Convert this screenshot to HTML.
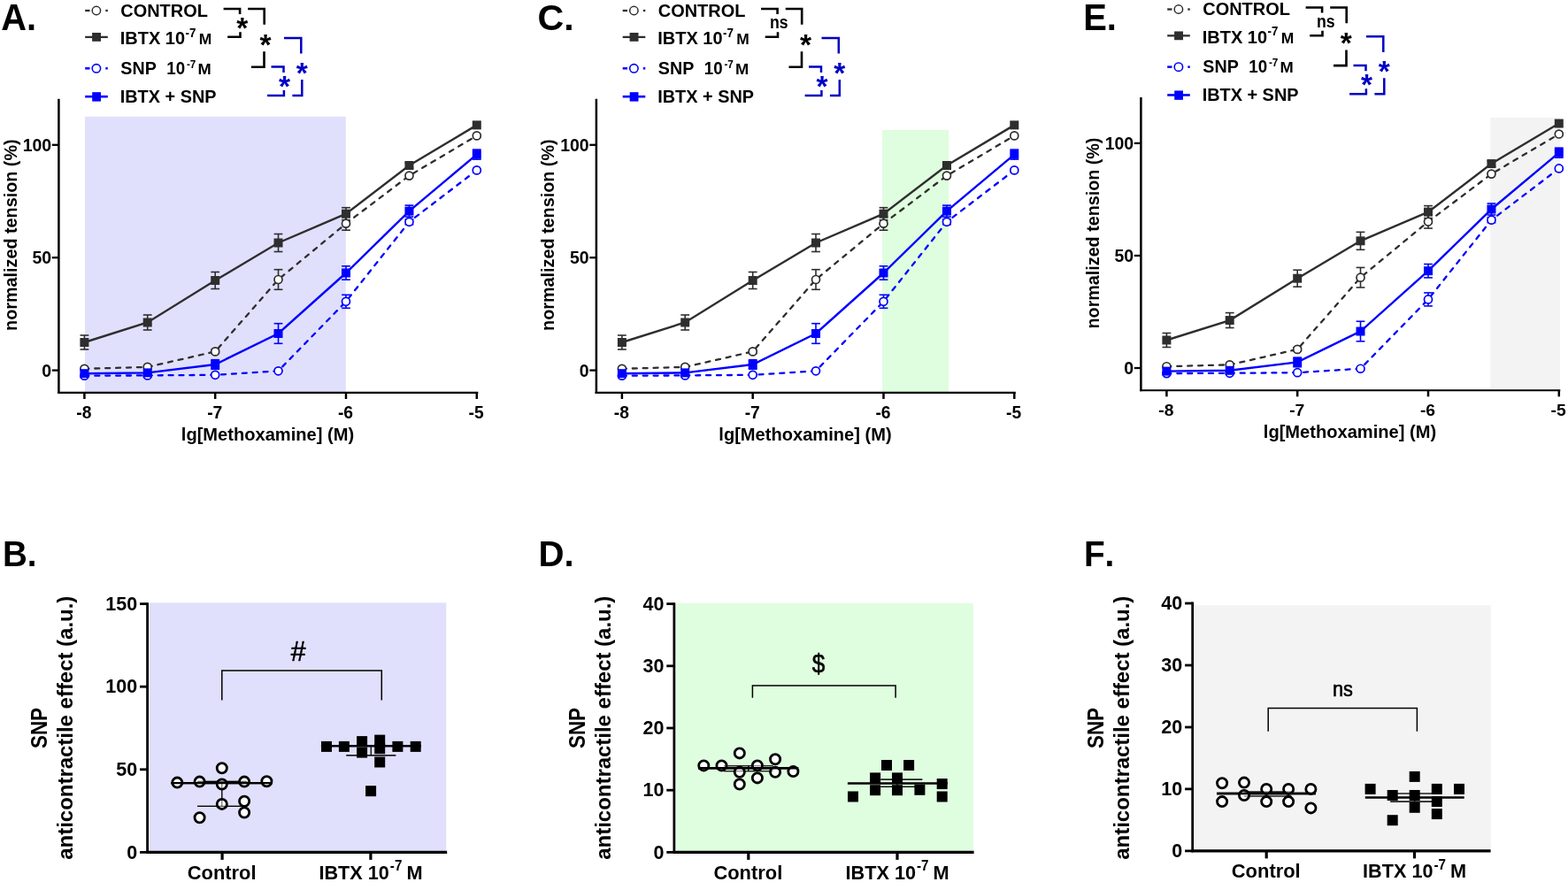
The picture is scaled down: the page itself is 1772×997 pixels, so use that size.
<!DOCTYPE html>
<html lang="en"><head><meta charset="utf-8"><title>Figure</title>
<style>html,body{margin:0;padding:0;background:#fff}svg{display:block}text{font-family:'Liberation Sans', sans-serif;font-kerning:none}</style></head><body>
<svg width="1772" height="997" viewBox="0 0 1772 997">
<rect width="1772" height="997" fill="#fff"/>
<g transform="translate(0,0)">
<rect x="96.00" y="131.80" width="294.80" height="311.20" fill="#E0E0FC"/>
<line x1="243.20" y1="395.40" x2="243.20" y2="399.40" stroke="#2E2E2E" stroke-width="1.6" />
<line x1="238.30" y1="395.40" x2="248.10" y2="395.40" stroke="#2E2E2E" stroke-width="1.6" />
<line x1="238.30" y1="399.40" x2="248.10" y2="399.40" stroke="#2E2E2E" stroke-width="1.6" />
<line x1="314.51" y1="304.70" x2="314.51" y2="327.30" stroke="#2E2E2E" stroke-width="1.6" />
<line x1="309.61" y1="304.70" x2="319.41" y2="304.70" stroke="#2E2E2E" stroke-width="1.6" />
<line x1="309.61" y1="327.30" x2="319.41" y2="327.30" stroke="#2E2E2E" stroke-width="1.6" />
<line x1="391.00" y1="245.20" x2="391.00" y2="260.20" stroke="#2E2E2E" stroke-width="1.6" />
<line x1="386.10" y1="245.20" x2="395.90" y2="245.20" stroke="#2E2E2E" stroke-width="1.6" />
<line x1="386.10" y1="260.20" x2="395.90" y2="260.20" stroke="#2E2E2E" stroke-width="1.6" />
<line x1="95.40" y1="379.00" x2="95.40" y2="395.00" stroke="#2E2E2E" stroke-width="1.6" />
<line x1="90.50" y1="379.00" x2="100.30" y2="379.00" stroke="#2E2E2E" stroke-width="1.6" />
<line x1="90.50" y1="395.00" x2="100.30" y2="395.00" stroke="#2E2E2E" stroke-width="1.6" />
<line x1="166.71" y1="356.00" x2="166.71" y2="373.00" stroke="#2E2E2E" stroke-width="1.6" />
<line x1="161.81" y1="356.00" x2="171.61" y2="356.00" stroke="#2E2E2E" stroke-width="1.6" />
<line x1="161.81" y1="373.00" x2="171.61" y2="373.00" stroke="#2E2E2E" stroke-width="1.6" />
<line x1="243.20" y1="307.50" x2="243.20" y2="326.50" stroke="#2E2E2E" stroke-width="1.6" />
<line x1="238.30" y1="307.50" x2="248.10" y2="307.50" stroke="#2E2E2E" stroke-width="1.6" />
<line x1="238.30" y1="326.50" x2="248.10" y2="326.50" stroke="#2E2E2E" stroke-width="1.6" />
<line x1="314.51" y1="264.50" x2="314.51" y2="284.50" stroke="#2E2E2E" stroke-width="1.6" />
<line x1="309.61" y1="264.50" x2="319.41" y2="264.50" stroke="#2E2E2E" stroke-width="1.6" />
<line x1="309.61" y1="284.50" x2="319.41" y2="284.50" stroke="#2E2E2E" stroke-width="1.6" />
<line x1="391.00" y1="234.70" x2="391.00" y2="248.70" stroke="#2E2E2E" stroke-width="1.6" />
<line x1="386.10" y1="234.70" x2="395.90" y2="234.70" stroke="#2E2E2E" stroke-width="1.6" />
<line x1="386.10" y1="248.70" x2="395.90" y2="248.70" stroke="#2E2E2E" stroke-width="1.6" />
<line x1="462.46" y1="184.00" x2="462.46" y2="190.00" stroke="#2E2E2E" stroke-width="1.6" />
<line x1="457.56" y1="184.00" x2="467.36" y2="184.00" stroke="#2E2E2E" stroke-width="1.6" />
<line x1="457.56" y1="190.00" x2="467.36" y2="190.00" stroke="#2E2E2E" stroke-width="1.6" />
<line x1="391.00" y1="333.30" x2="391.00" y2="348.30" stroke="#0000FF" stroke-width="1.6" />
<line x1="386.10" y1="333.30" x2="395.90" y2="333.30" stroke="#0000FF" stroke-width="1.6" />
<line x1="386.10" y1="348.30" x2="395.90" y2="348.30" stroke="#0000FF" stroke-width="1.6" />
<line x1="462.46" y1="247.80" x2="462.46" y2="253.80" stroke="#0000FF" stroke-width="1.6" />
<line x1="457.56" y1="247.80" x2="467.36" y2="247.80" stroke="#0000FF" stroke-width="1.6" />
<line x1="457.56" y1="253.80" x2="467.36" y2="253.80" stroke="#0000FF" stroke-width="1.6" />
<line x1="243.20" y1="406.70" x2="243.20" y2="417.30" stroke="#0000FF" stroke-width="1.6" />
<line x1="238.30" y1="406.70" x2="248.10" y2="406.70" stroke="#0000FF" stroke-width="1.6" />
<line x1="238.30" y1="417.30" x2="248.10" y2="417.30" stroke="#0000FF" stroke-width="1.6" />
<line x1="314.51" y1="365.70" x2="314.51" y2="388.30" stroke="#0000FF" stroke-width="1.6" />
<line x1="309.61" y1="365.70" x2="319.41" y2="365.70" stroke="#0000FF" stroke-width="1.6" />
<line x1="309.61" y1="388.30" x2="319.41" y2="388.30" stroke="#0000FF" stroke-width="1.6" />
<line x1="391.00" y1="300.80" x2="391.00" y2="316.20" stroke="#0000FF" stroke-width="1.6" />
<line x1="386.10" y1="300.80" x2="395.90" y2="300.80" stroke="#0000FF" stroke-width="1.6" />
<line x1="386.10" y1="316.20" x2="395.90" y2="316.20" stroke="#0000FF" stroke-width="1.6" />
<line x1="462.46" y1="232.10" x2="462.46" y2="245.10" stroke="#0000FF" stroke-width="1.6" />
<line x1="457.56" y1="232.10" x2="467.36" y2="232.10" stroke="#0000FF" stroke-width="1.6" />
<line x1="457.56" y1="245.10" x2="467.36" y2="245.10" stroke="#0000FF" stroke-width="1.6" />
<line x1="538.80" y1="169.10" x2="538.80" y2="180.10" stroke="#0000FF" stroke-width="1.6" />
<line x1="533.90" y1="169.10" x2="543.70" y2="169.10" stroke="#0000FF" stroke-width="1.6" />
<line x1="533.90" y1="180.10" x2="543.70" y2="180.10" stroke="#0000FF" stroke-width="1.6" />
<polyline points="95.40,416.80 166.71,414.90 243.20,397.40 314.51,316.00 391.00,252.70 462.46,198.60 538.80,153.40" fill="none" stroke="#2E2E2E" stroke-width="2.3" stroke-dasharray="5 6.9" stroke-linecap="round"/>
<polyline points="95.40,387.00 166.71,364.50 243.20,317.00 314.51,274.50 391.00,241.70 462.46,187.00 538.80,141.40" fill="none" stroke="#2E2E2E" stroke-width="2.4" />
<polyline points="95.40,424.70 166.71,424.40 243.20,423.80 314.51,419.30 391.00,340.80 462.46,250.80 538.80,192.40" fill="none" stroke="#0000FF" stroke-width="2.3" stroke-dasharray="5 6.9" stroke-linecap="round"/>
<polyline points="95.40,422.20 166.71,421.40 243.20,412.00 314.51,377.00 391.00,308.50 462.46,238.60 538.80,174.60" fill="none" stroke="#0000FF" stroke-width="2.4" />
<circle cx="95.40" cy="416.80" r="4.5" fill="#fff" stroke="#2E2E2E" stroke-width="1.7"/>
<circle cx="166.71" cy="414.90" r="4.5" fill="#fff" stroke="#2E2E2E" stroke-width="1.7"/>
<circle cx="243.20" cy="397.40" r="4.5" fill="#fff" stroke="#2E2E2E" stroke-width="1.7"/>
<circle cx="314.51" cy="316.00" r="4.5" fill="#fff" stroke="#2E2E2E" stroke-width="1.7"/>
<circle cx="391.00" cy="252.70" r="4.5" fill="#fff" stroke="#2E2E2E" stroke-width="1.7"/>
<circle cx="462.46" cy="198.60" r="4.5" fill="#fff" stroke="#2E2E2E" stroke-width="1.7"/>
<circle cx="538.80" cy="153.40" r="4.5" fill="#fff" stroke="#2E2E2E" stroke-width="1.7"/>
<rect x="90.40" y="382.00" width="10" height="10" fill="#2E2E2E"/>
<rect x="161.71" y="359.50" width="10" height="10" fill="#2E2E2E"/>
<rect x="238.20" y="312.00" width="10" height="10" fill="#2E2E2E"/>
<rect x="309.51" y="269.50" width="10" height="10" fill="#2E2E2E"/>
<rect x="386.00" y="236.70" width="10" height="10" fill="#2E2E2E"/>
<rect x="457.46" y="182.00" width="10" height="10" fill="#2E2E2E"/>
<rect x="533.80" y="136.40" width="10" height="10" fill="#2E2E2E"/>
<circle cx="95.40" cy="424.70" r="4.5" fill="#fff" stroke="#0000FF" stroke-width="1.7"/>
<circle cx="166.71" cy="424.40" r="4.5" fill="#fff" stroke="#0000FF" stroke-width="1.7"/>
<circle cx="243.20" cy="423.80" r="4.5" fill="#fff" stroke="#0000FF" stroke-width="1.7"/>
<circle cx="314.51" cy="419.30" r="4.5" fill="#fff" stroke="#0000FF" stroke-width="1.7"/>
<circle cx="391.00" cy="340.80" r="4.5" fill="#fff" stroke="#0000FF" stroke-width="1.7"/>
<circle cx="462.46" cy="250.80" r="4.5" fill="#fff" stroke="#0000FF" stroke-width="1.7"/>
<circle cx="538.80" cy="192.40" r="4.5" fill="#fff" stroke="#0000FF" stroke-width="1.7"/>
<rect x="90.40" y="417.20" width="10" height="10" fill="#0000FF"/>
<rect x="161.71" y="416.40" width="10" height="10" fill="#0000FF"/>
<rect x="238.20" y="407.00" width="10" height="10" fill="#0000FF"/>
<rect x="309.51" y="372.00" width="10" height="10" fill="#0000FF"/>
<rect x="386.00" y="303.50" width="10" height="10" fill="#0000FF"/>
<rect x="457.46" y="233.60" width="10" height="10" fill="#0000FF"/>
<rect x="533.80" y="169.60" width="10" height="10" fill="#0000FF"/>
<line x1="66.40" y1="111.80" x2="66.40" y2="444.90" stroke="#000" stroke-width="2.5" />
<line x1="65.15" y1="443.90" x2="540.30" y2="443.90" stroke="#000" stroke-width="2.2" />
<line x1="58.80" y1="418.60" x2="66.40" y2="418.60" stroke="#000" stroke-width="2.3" />
<text transform="translate(47.35,425.50) scale(1.0000,1)" font-size="19.50" font-weight="bold" fill="#000">0</text>
<line x1="58.80" y1="291.20" x2="66.40" y2="291.20" stroke="#000" stroke-width="2.3" />
<text transform="translate(36.51,298.10) scale(1.0000,1)" font-size="19.50" font-weight="bold" fill="#000">50</text>
<line x1="58.80" y1="163.80" x2="66.40" y2="163.80" stroke="#000" stroke-width="2.3" />
<text transform="translate(25.66,170.70) scale(1.0000,1)" font-size="19.50" font-weight="bold" fill="#000">100</text>
<line x1="95.40" y1="443.90" x2="95.40" y2="451.00" stroke="#000" stroke-width="2.5" />
<text transform="translate(86.24,472.80) scale(1.0000,1)" font-size="19.30" font-weight="bold" fill="#000">-8</text>
<line x1="243.20" y1="443.90" x2="243.20" y2="451.00" stroke="#000" stroke-width="2.5" />
<text transform="translate(234.17,472.80) scale(1.0000,1)" font-size="19.30" font-weight="bold" fill="#000">-7</text>
<line x1="391.00" y1="443.90" x2="391.00" y2="451.00" stroke="#000" stroke-width="2.5" />
<text transform="translate(381.89,472.80) scale(1.0000,1)" font-size="19.30" font-weight="bold" fill="#000">-6</text>
<line x1="538.80" y1="443.90" x2="538.80" y2="451.00" stroke="#000" stroke-width="2.5" />
<text transform="translate(529.61,472.80) scale(1.0000,1)" font-size="19.30" font-weight="bold" fill="#000">-5</text>
<text transform="translate(204.80,497.60) scale(1.0255,1)" font-size="19.60" font-weight="bold" fill="#000">lg[Methoxamine] (M)</text>
<text transform="translate(18.70,373.90) rotate(-90) scale(1.0045,1)" font-size="19.70" font-weight="bold" fill="#000">normalized tension (%)</text>
<line x1="96.20" y1="12.00" x2="101.50" y2="12.00" stroke="#2E2E2E" stroke-width="2.3" />
<line x1="119.30" y1="12.00" x2="121.80" y2="12.00" stroke="#2E2E2E" stroke-width="2.3" />
<circle cx="108.9" cy="12" r="4.7" fill="#fff" stroke="#2E2E2E" stroke-width="1.5"/>
<text transform="translate(136.28,18.50) scale(0.9985,1)" font-size="20.00" font-weight="bold" fill="#000">CONTROL</text>
<line x1="96.20" y1="41.90" x2="121.80" y2="41.90" stroke="#2E2E2E" stroke-width="2.3" />
<rect x="104.1" y="37.0" width="9.9" height="9.8" fill="#2E2E2E"/>
<text transform="translate(135.76,50.20) scale(1.0000,1)" font-size="20.00" font-weight="bold" fill="#000">IBTX 10</text>
<text transform="translate(209.58,41.60) scale(0.8931,1)" font-size="15.00" font-weight="bold" fill="#000">-7</text>
<text transform="translate(224.73,50.20) scale(1.0905,1)" font-size="16.00" font-weight="bold" fill="#000">M</text>
<line x1="96.20" y1="77.30" x2="101.50" y2="77.30" stroke="#0000FF" stroke-width="2.5" />
<line x1="119.30" y1="77.30" x2="121.80" y2="77.30" stroke="#0000FF" stroke-width="2.5" />
<circle cx="108.9" cy="77.3" r="4.7" fill="#fff" stroke="#0000FF" stroke-width="1.6"/>
<text transform="translate(136.33,83.90) scale(0.9859,1)" font-size="20.00" font-weight="bold" fill="#000">SNP</text>
<text transform="translate(188.22,83.90) scale(0.9372,1)" font-size="20.00" font-weight="bold" fill="#000">10</text>
<text transform="translate(210.94,76.50) scale(0.9427,1)" font-size="12.50" font-weight="bold" fill="#000">-7</text>
<text transform="translate(223.38,83.90) scale(1.1441,1)" font-size="16.00" font-weight="bold" fill="#000">M</text>
<line x1="96.20" y1="109.20" x2="121.80" y2="109.20" stroke="#0000FF" stroke-width="2.6" />
<rect x="104.2" y="104.2" width="9.8" height="10.4" fill="#0000FF"/>
<text transform="translate(135.67,115.90) scale(0.9949,1)" font-size="20.00" font-weight="bold" fill="#000">IBTX + SNP</text>
<polyline points="252.60,9.95 271.10,9.95 271.10,15.90" fill="none" stroke="#000" stroke-width="2.6" />
<polyline points="257.20,41.80 271.50,41.80 271.50,36.20" fill="none" stroke="#000" stroke-width="2.6" />
<text transform="translate(267.15,43.02) scale(1.0000,1)" font-size="33.50" font-weight="bold" fill="#000">*</text>
<polyline points="280.20,9.95 298.70,9.95 298.70,27.80" fill="none" stroke="#000" stroke-width="2.6" />
<polyline points="284.00,75.80 298.50,75.80 298.50,58.20" fill="none" stroke="#000" stroke-width="2.6" />
<text transform="translate(293.55,61.92) scale(1.0000,1)" font-size="33.50" font-weight="bold" fill="#000">*</text>
<polyline points="321.00,42.90 340.30,42.90 340.30,60.50" fill="none" stroke="#0000C4" stroke-width="2.5" />
<polyline points="330.40,107.90 341.30,107.90 341.30,90.00" fill="none" stroke="#0000C4" stroke-width="2.5" />
<text transform="translate(334.85,93.92) scale(1.0000,1)" font-size="33.50" font-weight="bold" fill="#0000C4">*</text>
<polyline points="306.50,75.60 320.50,75.60 320.50,81.90" fill="none" stroke="#0000C4" stroke-width="2.5" />
<polyline points="302.10,107.90 320.90,107.90 320.90,101.90" fill="none" stroke="#0000C4" stroke-width="2.5" />
<text transform="translate(315.05,109.22) scale(1.0000,1)" font-size="33.50" font-weight="bold" fill="#0000C4">*</text>
</g>
<text transform="translate(1.21,34.00) scale(0.9582,1)" font-size="41.57" font-weight="bold" fill="#000">A.</text>
<g transform="translate(607.5,0)">
<rect x="389.60" y="146.90" width="75.00" height="296.10" fill="#DFFDDF"/>
<line x1="243.20" y1="395.40" x2="243.20" y2="399.40" stroke="#2E2E2E" stroke-width="1.6" />
<line x1="238.30" y1="395.40" x2="248.10" y2="395.40" stroke="#2E2E2E" stroke-width="1.6" />
<line x1="238.30" y1="399.40" x2="248.10" y2="399.40" stroke="#2E2E2E" stroke-width="1.6" />
<line x1="314.51" y1="304.70" x2="314.51" y2="327.30" stroke="#2E2E2E" stroke-width="1.6" />
<line x1="309.61" y1="304.70" x2="319.41" y2="304.70" stroke="#2E2E2E" stroke-width="1.6" />
<line x1="309.61" y1="327.30" x2="319.41" y2="327.30" stroke="#2E2E2E" stroke-width="1.6" />
<line x1="391.00" y1="245.20" x2="391.00" y2="260.20" stroke="#2E2E2E" stroke-width="1.6" />
<line x1="386.10" y1="245.20" x2="395.90" y2="245.20" stroke="#2E2E2E" stroke-width="1.6" />
<line x1="386.10" y1="260.20" x2="395.90" y2="260.20" stroke="#2E2E2E" stroke-width="1.6" />
<line x1="95.40" y1="379.00" x2="95.40" y2="395.00" stroke="#2E2E2E" stroke-width="1.6" />
<line x1="90.50" y1="379.00" x2="100.30" y2="379.00" stroke="#2E2E2E" stroke-width="1.6" />
<line x1="90.50" y1="395.00" x2="100.30" y2="395.00" stroke="#2E2E2E" stroke-width="1.6" />
<line x1="166.71" y1="356.00" x2="166.71" y2="373.00" stroke="#2E2E2E" stroke-width="1.6" />
<line x1="161.81" y1="356.00" x2="171.61" y2="356.00" stroke="#2E2E2E" stroke-width="1.6" />
<line x1="161.81" y1="373.00" x2="171.61" y2="373.00" stroke="#2E2E2E" stroke-width="1.6" />
<line x1="243.20" y1="307.50" x2="243.20" y2="326.50" stroke="#2E2E2E" stroke-width="1.6" />
<line x1="238.30" y1="307.50" x2="248.10" y2="307.50" stroke="#2E2E2E" stroke-width="1.6" />
<line x1="238.30" y1="326.50" x2="248.10" y2="326.50" stroke="#2E2E2E" stroke-width="1.6" />
<line x1="314.51" y1="264.50" x2="314.51" y2="284.50" stroke="#2E2E2E" stroke-width="1.6" />
<line x1="309.61" y1="264.50" x2="319.41" y2="264.50" stroke="#2E2E2E" stroke-width="1.6" />
<line x1="309.61" y1="284.50" x2="319.41" y2="284.50" stroke="#2E2E2E" stroke-width="1.6" />
<line x1="391.00" y1="234.70" x2="391.00" y2="248.70" stroke="#2E2E2E" stroke-width="1.6" />
<line x1="386.10" y1="234.70" x2="395.90" y2="234.70" stroke="#2E2E2E" stroke-width="1.6" />
<line x1="386.10" y1="248.70" x2="395.90" y2="248.70" stroke="#2E2E2E" stroke-width="1.6" />
<line x1="462.46" y1="184.00" x2="462.46" y2="190.00" stroke="#2E2E2E" stroke-width="1.6" />
<line x1="457.56" y1="184.00" x2="467.36" y2="184.00" stroke="#2E2E2E" stroke-width="1.6" />
<line x1="457.56" y1="190.00" x2="467.36" y2="190.00" stroke="#2E2E2E" stroke-width="1.6" />
<line x1="391.00" y1="333.30" x2="391.00" y2="348.30" stroke="#0000FF" stroke-width="1.6" />
<line x1="386.10" y1="333.30" x2="395.90" y2="333.30" stroke="#0000FF" stroke-width="1.6" />
<line x1="386.10" y1="348.30" x2="395.90" y2="348.30" stroke="#0000FF" stroke-width="1.6" />
<line x1="462.46" y1="247.80" x2="462.46" y2="253.80" stroke="#0000FF" stroke-width="1.6" />
<line x1="457.56" y1="247.80" x2="467.36" y2="247.80" stroke="#0000FF" stroke-width="1.6" />
<line x1="457.56" y1="253.80" x2="467.36" y2="253.80" stroke="#0000FF" stroke-width="1.6" />
<line x1="243.20" y1="406.70" x2="243.20" y2="417.30" stroke="#0000FF" stroke-width="1.6" />
<line x1="238.30" y1="406.70" x2="248.10" y2="406.70" stroke="#0000FF" stroke-width="1.6" />
<line x1="238.30" y1="417.30" x2="248.10" y2="417.30" stroke="#0000FF" stroke-width="1.6" />
<line x1="314.51" y1="365.70" x2="314.51" y2="388.30" stroke="#0000FF" stroke-width="1.6" />
<line x1="309.61" y1="365.70" x2="319.41" y2="365.70" stroke="#0000FF" stroke-width="1.6" />
<line x1="309.61" y1="388.30" x2="319.41" y2="388.30" stroke="#0000FF" stroke-width="1.6" />
<line x1="391.00" y1="300.80" x2="391.00" y2="316.20" stroke="#0000FF" stroke-width="1.6" />
<line x1="386.10" y1="300.80" x2="395.90" y2="300.80" stroke="#0000FF" stroke-width="1.6" />
<line x1="386.10" y1="316.20" x2="395.90" y2="316.20" stroke="#0000FF" stroke-width="1.6" />
<line x1="462.46" y1="232.10" x2="462.46" y2="245.10" stroke="#0000FF" stroke-width="1.6" />
<line x1="457.56" y1="232.10" x2="467.36" y2="232.10" stroke="#0000FF" stroke-width="1.6" />
<line x1="457.56" y1="245.10" x2="467.36" y2="245.10" stroke="#0000FF" stroke-width="1.6" />
<line x1="538.80" y1="169.10" x2="538.80" y2="180.10" stroke="#0000FF" stroke-width="1.6" />
<line x1="533.90" y1="169.10" x2="543.70" y2="169.10" stroke="#0000FF" stroke-width="1.6" />
<line x1="533.90" y1="180.10" x2="543.70" y2="180.10" stroke="#0000FF" stroke-width="1.6" />
<polyline points="95.40,416.80 166.71,414.90 243.20,397.40 314.51,316.00 391.00,252.70 462.46,198.60 538.80,153.40" fill="none" stroke="#2E2E2E" stroke-width="2.3" stroke-dasharray="5 6.9" stroke-linecap="round"/>
<polyline points="95.40,387.00 166.71,364.50 243.20,317.00 314.51,274.50 391.00,241.70 462.46,187.00 538.80,141.40" fill="none" stroke="#2E2E2E" stroke-width="2.4" />
<polyline points="95.40,424.70 166.71,424.40 243.20,423.80 314.51,419.30 391.00,340.80 462.46,250.80 538.80,192.40" fill="none" stroke="#0000FF" stroke-width="2.3" stroke-dasharray="5 6.9" stroke-linecap="round"/>
<polyline points="95.40,422.20 166.71,421.40 243.20,412.00 314.51,377.00 391.00,308.50 462.46,238.60 538.80,174.60" fill="none" stroke="#0000FF" stroke-width="2.4" />
<circle cx="95.40" cy="416.80" r="4.5" fill="#fff" stroke="#2E2E2E" stroke-width="1.7"/>
<circle cx="166.71" cy="414.90" r="4.5" fill="#fff" stroke="#2E2E2E" stroke-width="1.7"/>
<circle cx="243.20" cy="397.40" r="4.5" fill="#fff" stroke="#2E2E2E" stroke-width="1.7"/>
<circle cx="314.51" cy="316.00" r="4.5" fill="#fff" stroke="#2E2E2E" stroke-width="1.7"/>
<circle cx="391.00" cy="252.70" r="4.5" fill="#fff" stroke="#2E2E2E" stroke-width="1.7"/>
<circle cx="462.46" cy="198.60" r="4.5" fill="#fff" stroke="#2E2E2E" stroke-width="1.7"/>
<circle cx="538.80" cy="153.40" r="4.5" fill="#fff" stroke="#2E2E2E" stroke-width="1.7"/>
<rect x="90.40" y="382.00" width="10" height="10" fill="#2E2E2E"/>
<rect x="161.71" y="359.50" width="10" height="10" fill="#2E2E2E"/>
<rect x="238.20" y="312.00" width="10" height="10" fill="#2E2E2E"/>
<rect x="309.51" y="269.50" width="10" height="10" fill="#2E2E2E"/>
<rect x="386.00" y="236.70" width="10" height="10" fill="#2E2E2E"/>
<rect x="457.46" y="182.00" width="10" height="10" fill="#2E2E2E"/>
<rect x="533.80" y="136.40" width="10" height="10" fill="#2E2E2E"/>
<circle cx="95.40" cy="424.70" r="4.5" fill="#fff" stroke="#0000FF" stroke-width="1.7"/>
<circle cx="166.71" cy="424.40" r="4.5" fill="#fff" stroke="#0000FF" stroke-width="1.7"/>
<circle cx="243.20" cy="423.80" r="4.5" fill="#fff" stroke="#0000FF" stroke-width="1.7"/>
<circle cx="314.51" cy="419.30" r="4.5" fill="#fff" stroke="#0000FF" stroke-width="1.7"/>
<circle cx="391.00" cy="340.80" r="4.5" fill="#fff" stroke="#0000FF" stroke-width="1.7"/>
<circle cx="462.46" cy="250.80" r="4.5" fill="#fff" stroke="#0000FF" stroke-width="1.7"/>
<circle cx="538.80" cy="192.40" r="4.5" fill="#fff" stroke="#0000FF" stroke-width="1.7"/>
<rect x="90.40" y="417.20" width="10" height="10" fill="#0000FF"/>
<rect x="161.71" y="416.40" width="10" height="10" fill="#0000FF"/>
<rect x="238.20" y="407.00" width="10" height="10" fill="#0000FF"/>
<rect x="309.51" y="372.00" width="10" height="10" fill="#0000FF"/>
<rect x="386.00" y="303.50" width="10" height="10" fill="#0000FF"/>
<rect x="457.46" y="233.60" width="10" height="10" fill="#0000FF"/>
<rect x="533.80" y="169.60" width="10" height="10" fill="#0000FF"/>
<line x1="66.40" y1="111.80" x2="66.40" y2="444.90" stroke="#000" stroke-width="2.5" />
<line x1="65.15" y1="443.90" x2="540.30" y2="443.90" stroke="#000" stroke-width="2.2" />
<line x1="58.80" y1="418.60" x2="66.40" y2="418.60" stroke="#000" stroke-width="2.3" />
<text transform="translate(47.35,425.50) scale(1.0000,1)" font-size="19.50" font-weight="bold" fill="#000">0</text>
<line x1="58.80" y1="291.20" x2="66.40" y2="291.20" stroke="#000" stroke-width="2.3" />
<text transform="translate(36.51,298.10) scale(1.0000,1)" font-size="19.50" font-weight="bold" fill="#000">50</text>
<line x1="58.80" y1="163.80" x2="66.40" y2="163.80" stroke="#000" stroke-width="2.3" />
<text transform="translate(25.66,170.70) scale(1.0000,1)" font-size="19.50" font-weight="bold" fill="#000">100</text>
<line x1="95.40" y1="443.90" x2="95.40" y2="451.00" stroke="#000" stroke-width="2.5" />
<text transform="translate(86.24,472.80) scale(1.0000,1)" font-size="19.30" font-weight="bold" fill="#000">-8</text>
<line x1="243.20" y1="443.90" x2="243.20" y2="451.00" stroke="#000" stroke-width="2.5" />
<text transform="translate(234.17,472.80) scale(1.0000,1)" font-size="19.30" font-weight="bold" fill="#000">-7</text>
<line x1="391.00" y1="443.90" x2="391.00" y2="451.00" stroke="#000" stroke-width="2.5" />
<text transform="translate(381.89,472.80) scale(1.0000,1)" font-size="19.30" font-weight="bold" fill="#000">-6</text>
<line x1="538.80" y1="443.90" x2="538.80" y2="451.00" stroke="#000" stroke-width="2.5" />
<text transform="translate(529.61,472.80) scale(1.0000,1)" font-size="19.30" font-weight="bold" fill="#000">-5</text>
<text transform="translate(204.80,497.60) scale(1.0255,1)" font-size="19.60" font-weight="bold" fill="#000">lg[Methoxamine] (M)</text>
<text transform="translate(18.70,373.90) rotate(-90) scale(1.0045,1)" font-size="19.70" font-weight="bold" fill="#000">normalized tension (%)</text>
<line x1="96.20" y1="12.00" x2="101.50" y2="12.00" stroke="#2E2E2E" stroke-width="2.3" />
<line x1="119.30" y1="12.00" x2="121.80" y2="12.00" stroke="#2E2E2E" stroke-width="2.3" />
<circle cx="108.9" cy="12" r="4.7" fill="#fff" stroke="#2E2E2E" stroke-width="1.5"/>
<text transform="translate(136.28,18.50) scale(0.9985,1)" font-size="20.00" font-weight="bold" fill="#000">CONTROL</text>
<line x1="96.20" y1="41.90" x2="121.80" y2="41.90" stroke="#2E2E2E" stroke-width="2.3" />
<rect x="104.1" y="37.0" width="9.9" height="9.8" fill="#2E2E2E"/>
<text transform="translate(135.76,50.20) scale(1.0000,1)" font-size="20.00" font-weight="bold" fill="#000">IBTX 10</text>
<text transform="translate(209.58,41.60) scale(0.8931,1)" font-size="15.00" font-weight="bold" fill="#000">-7</text>
<text transform="translate(224.73,50.20) scale(1.0905,1)" font-size="16.00" font-weight="bold" fill="#000">M</text>
<line x1="96.20" y1="77.30" x2="101.50" y2="77.30" stroke="#0000FF" stroke-width="2.5" />
<line x1="119.30" y1="77.30" x2="121.80" y2="77.30" stroke="#0000FF" stroke-width="2.5" />
<circle cx="108.9" cy="77.3" r="4.7" fill="#fff" stroke="#0000FF" stroke-width="1.6"/>
<text transform="translate(136.33,83.90) scale(0.9859,1)" font-size="20.00" font-weight="bold" fill="#000">SNP</text>
<text transform="translate(188.22,83.90) scale(0.9372,1)" font-size="20.00" font-weight="bold" fill="#000">10</text>
<text transform="translate(210.94,76.50) scale(0.9427,1)" font-size="12.50" font-weight="bold" fill="#000">-7</text>
<text transform="translate(223.38,83.90) scale(1.1441,1)" font-size="16.00" font-weight="bold" fill="#000">M</text>
<line x1="96.20" y1="109.20" x2="121.80" y2="109.20" stroke="#0000FF" stroke-width="2.6" />
<rect x="104.2" y="104.2" width="9.8" height="10.4" fill="#0000FF"/>
<text transform="translate(135.67,115.90) scale(0.9949,1)" font-size="20.00" font-weight="bold" fill="#000">IBTX + SNP</text>
<polyline points="252.60,9.95 271.10,9.95 271.10,15.90" fill="none" stroke="#000" stroke-width="2.6" />
<polyline points="257.20,41.80 271.50,41.80 271.50,36.20" fill="none" stroke="#000" stroke-width="2.6" />
<text transform="translate(262.53,32.00) scale(0.8867,1)" font-size="20.00" font-weight="bold" fill="#000">ns</text>
<polyline points="280.20,9.95 298.70,9.95 298.70,27.80" fill="none" stroke="#000" stroke-width="2.6" />
<polyline points="284.00,75.80 298.50,75.80 298.50,58.20" fill="none" stroke="#000" stroke-width="2.6" />
<text transform="translate(296.45,61.92) scale(1.0000,1)" font-size="33.50" font-weight="bold" fill="#000">*</text>
<polyline points="321.00,42.90 340.30,42.90 340.30,60.50" fill="none" stroke="#0000C4" stroke-width="2.5" />
<polyline points="330.40,107.90 341.30,107.90 341.30,90.00" fill="none" stroke="#0000C4" stroke-width="2.5" />
<text transform="translate(334.85,93.92) scale(1.0000,1)" font-size="33.50" font-weight="bold" fill="#0000C4">*</text>
<polyline points="306.50,75.60 320.50,75.60 320.50,81.90" fill="none" stroke="#0000C4" stroke-width="2.5" />
<polyline points="302.10,107.90 320.90,107.90 320.90,101.90" fill="none" stroke="#0000C4" stroke-width="2.5" />
<text transform="translate(315.05,109.22) scale(1.0000,1)" font-size="33.50" font-weight="bold" fill="#0000C4">*</text>
</g>
<text transform="translate(607.51,34.30) scale(1.0101,1)" font-size="40.82" font-weight="bold" fill="#000">C.</text>
<g transform="translate(1223,-1.45) scale(1,0.9973)">
<rect x="461.30" y="134.60" width="78.80" height="308.40" fill="#F3F3F3"/>
<line x1="243.20" y1="395.40" x2="243.20" y2="399.40" stroke="#2E2E2E" stroke-width="1.6" />
<line x1="238.30" y1="395.40" x2="248.10" y2="395.40" stroke="#2E2E2E" stroke-width="1.6" />
<line x1="238.30" y1="399.40" x2="248.10" y2="399.40" stroke="#2E2E2E" stroke-width="1.6" />
<line x1="314.51" y1="304.70" x2="314.51" y2="327.30" stroke="#2E2E2E" stroke-width="1.6" />
<line x1="309.61" y1="304.70" x2="319.41" y2="304.70" stroke="#2E2E2E" stroke-width="1.6" />
<line x1="309.61" y1="327.30" x2="319.41" y2="327.30" stroke="#2E2E2E" stroke-width="1.6" />
<line x1="391.00" y1="245.20" x2="391.00" y2="260.20" stroke="#2E2E2E" stroke-width="1.6" />
<line x1="386.10" y1="245.20" x2="395.90" y2="245.20" stroke="#2E2E2E" stroke-width="1.6" />
<line x1="386.10" y1="260.20" x2="395.90" y2="260.20" stroke="#2E2E2E" stroke-width="1.6" />
<line x1="95.40" y1="379.00" x2="95.40" y2="395.00" stroke="#2E2E2E" stroke-width="1.6" />
<line x1="90.50" y1="379.00" x2="100.30" y2="379.00" stroke="#2E2E2E" stroke-width="1.6" />
<line x1="90.50" y1="395.00" x2="100.30" y2="395.00" stroke="#2E2E2E" stroke-width="1.6" />
<line x1="166.71" y1="356.00" x2="166.71" y2="373.00" stroke="#2E2E2E" stroke-width="1.6" />
<line x1="161.81" y1="356.00" x2="171.61" y2="356.00" stroke="#2E2E2E" stroke-width="1.6" />
<line x1="161.81" y1="373.00" x2="171.61" y2="373.00" stroke="#2E2E2E" stroke-width="1.6" />
<line x1="243.20" y1="307.50" x2="243.20" y2="326.50" stroke="#2E2E2E" stroke-width="1.6" />
<line x1="238.30" y1="307.50" x2="248.10" y2="307.50" stroke="#2E2E2E" stroke-width="1.6" />
<line x1="238.30" y1="326.50" x2="248.10" y2="326.50" stroke="#2E2E2E" stroke-width="1.6" />
<line x1="314.51" y1="264.50" x2="314.51" y2="284.50" stroke="#2E2E2E" stroke-width="1.6" />
<line x1="309.61" y1="264.50" x2="319.41" y2="264.50" stroke="#2E2E2E" stroke-width="1.6" />
<line x1="309.61" y1="284.50" x2="319.41" y2="284.50" stroke="#2E2E2E" stroke-width="1.6" />
<line x1="391.00" y1="234.70" x2="391.00" y2="248.70" stroke="#2E2E2E" stroke-width="1.6" />
<line x1="386.10" y1="234.70" x2="395.90" y2="234.70" stroke="#2E2E2E" stroke-width="1.6" />
<line x1="386.10" y1="248.70" x2="395.90" y2="248.70" stroke="#2E2E2E" stroke-width="1.6" />
<line x1="462.46" y1="184.00" x2="462.46" y2="190.00" stroke="#2E2E2E" stroke-width="1.6" />
<line x1="457.56" y1="184.00" x2="467.36" y2="184.00" stroke="#2E2E2E" stroke-width="1.6" />
<line x1="457.56" y1="190.00" x2="467.36" y2="190.00" stroke="#2E2E2E" stroke-width="1.6" />
<line x1="391.00" y1="333.30" x2="391.00" y2="348.30" stroke="#0000FF" stroke-width="1.6" />
<line x1="386.10" y1="333.30" x2="395.90" y2="333.30" stroke="#0000FF" stroke-width="1.6" />
<line x1="386.10" y1="348.30" x2="395.90" y2="348.30" stroke="#0000FF" stroke-width="1.6" />
<line x1="462.46" y1="247.80" x2="462.46" y2="253.80" stroke="#0000FF" stroke-width="1.6" />
<line x1="457.56" y1="247.80" x2="467.36" y2="247.80" stroke="#0000FF" stroke-width="1.6" />
<line x1="457.56" y1="253.80" x2="467.36" y2="253.80" stroke="#0000FF" stroke-width="1.6" />
<line x1="243.20" y1="406.70" x2="243.20" y2="417.30" stroke="#0000FF" stroke-width="1.6" />
<line x1="238.30" y1="406.70" x2="248.10" y2="406.70" stroke="#0000FF" stroke-width="1.6" />
<line x1="238.30" y1="417.30" x2="248.10" y2="417.30" stroke="#0000FF" stroke-width="1.6" />
<line x1="314.51" y1="365.70" x2="314.51" y2="388.30" stroke="#0000FF" stroke-width="1.6" />
<line x1="309.61" y1="365.70" x2="319.41" y2="365.70" stroke="#0000FF" stroke-width="1.6" />
<line x1="309.61" y1="388.30" x2="319.41" y2="388.30" stroke="#0000FF" stroke-width="1.6" />
<line x1="391.00" y1="300.80" x2="391.00" y2="316.20" stroke="#0000FF" stroke-width="1.6" />
<line x1="386.10" y1="300.80" x2="395.90" y2="300.80" stroke="#0000FF" stroke-width="1.6" />
<line x1="386.10" y1="316.20" x2="395.90" y2="316.20" stroke="#0000FF" stroke-width="1.6" />
<line x1="462.46" y1="232.10" x2="462.46" y2="245.10" stroke="#0000FF" stroke-width="1.6" />
<line x1="457.56" y1="232.10" x2="467.36" y2="232.10" stroke="#0000FF" stroke-width="1.6" />
<line x1="457.56" y1="245.10" x2="467.36" y2="245.10" stroke="#0000FF" stroke-width="1.6" />
<line x1="538.80" y1="169.10" x2="538.80" y2="180.10" stroke="#0000FF" stroke-width="1.6" />
<line x1="533.90" y1="169.10" x2="543.70" y2="169.10" stroke="#0000FF" stroke-width="1.6" />
<line x1="533.90" y1="180.10" x2="543.70" y2="180.10" stroke="#0000FF" stroke-width="1.6" />
<polyline points="95.40,416.80 166.71,414.90 243.20,397.40 314.51,316.00 391.00,252.70 462.46,198.60 538.80,153.40" fill="none" stroke="#2E2E2E" stroke-width="2.3" stroke-dasharray="5 6.9" stroke-linecap="round"/>
<polyline points="95.40,387.00 166.71,364.50 243.20,317.00 314.51,274.50 391.00,241.70 462.46,187.00 538.80,141.40" fill="none" stroke="#2E2E2E" stroke-width="2.4" />
<polyline points="95.40,424.70 166.71,424.40 243.20,423.80 314.51,419.30 391.00,340.80 462.46,250.80 538.80,192.40" fill="none" stroke="#0000FF" stroke-width="2.3" stroke-dasharray="5 6.9" stroke-linecap="round"/>
<polyline points="95.40,422.20 166.71,421.40 243.20,412.00 314.51,377.00 391.00,308.50 462.46,238.60 538.80,174.60" fill="none" stroke="#0000FF" stroke-width="2.4" />
<circle cx="95.40" cy="416.80" r="4.5" fill="#fff" stroke="#2E2E2E" stroke-width="1.7"/>
<circle cx="166.71" cy="414.90" r="4.5" fill="#fff" stroke="#2E2E2E" stroke-width="1.7"/>
<circle cx="243.20" cy="397.40" r="4.5" fill="#fff" stroke="#2E2E2E" stroke-width="1.7"/>
<circle cx="314.51" cy="316.00" r="4.5" fill="#fff" stroke="#2E2E2E" stroke-width="1.7"/>
<circle cx="391.00" cy="252.70" r="4.5" fill="#fff" stroke="#2E2E2E" stroke-width="1.7"/>
<circle cx="462.46" cy="198.60" r="4.5" fill="#fff" stroke="#2E2E2E" stroke-width="1.7"/>
<circle cx="538.80" cy="153.40" r="4.5" fill="#fff" stroke="#2E2E2E" stroke-width="1.7"/>
<rect x="90.40" y="382.00" width="10" height="10" fill="#2E2E2E"/>
<rect x="161.71" y="359.50" width="10" height="10" fill="#2E2E2E"/>
<rect x="238.20" y="312.00" width="10" height="10" fill="#2E2E2E"/>
<rect x="309.51" y="269.50" width="10" height="10" fill="#2E2E2E"/>
<rect x="386.00" y="236.70" width="10" height="10" fill="#2E2E2E"/>
<rect x="457.46" y="182.00" width="10" height="10" fill="#2E2E2E"/>
<rect x="533.80" y="136.40" width="10" height="10" fill="#2E2E2E"/>
<circle cx="95.40" cy="424.70" r="4.5" fill="#fff" stroke="#0000FF" stroke-width="1.7"/>
<circle cx="166.71" cy="424.40" r="4.5" fill="#fff" stroke="#0000FF" stroke-width="1.7"/>
<circle cx="243.20" cy="423.80" r="4.5" fill="#fff" stroke="#0000FF" stroke-width="1.7"/>
<circle cx="314.51" cy="419.30" r="4.5" fill="#fff" stroke="#0000FF" stroke-width="1.7"/>
<circle cx="391.00" cy="340.80" r="4.5" fill="#fff" stroke="#0000FF" stroke-width="1.7"/>
<circle cx="462.46" cy="250.80" r="4.5" fill="#fff" stroke="#0000FF" stroke-width="1.7"/>
<circle cx="538.80" cy="192.40" r="4.5" fill="#fff" stroke="#0000FF" stroke-width="1.7"/>
<rect x="90.40" y="417.20" width="10" height="10" fill="#0000FF"/>
<rect x="161.71" y="416.40" width="10" height="10" fill="#0000FF"/>
<rect x="238.20" y="407.00" width="10" height="10" fill="#0000FF"/>
<rect x="309.51" y="372.00" width="10" height="10" fill="#0000FF"/>
<rect x="386.00" y="303.50" width="10" height="10" fill="#0000FF"/>
<rect x="457.46" y="233.60" width="10" height="10" fill="#0000FF"/>
<rect x="533.80" y="169.60" width="10" height="10" fill="#0000FF"/>
<line x1="66.40" y1="111.80" x2="66.40" y2="444.90" stroke="#000" stroke-width="2.5" />
<line x1="65.15" y1="443.90" x2="540.30" y2="443.90" stroke="#000" stroke-width="2.2" />
<line x1="58.80" y1="418.60" x2="66.40" y2="418.60" stroke="#000" stroke-width="2.3" />
<text transform="translate(47.35,425.50) scale(1.0000,1)" font-size="19.50" font-weight="bold" fill="#000">0</text>
<line x1="58.80" y1="291.20" x2="66.40" y2="291.20" stroke="#000" stroke-width="2.3" />
<text transform="translate(36.51,298.10) scale(1.0000,1)" font-size="19.50" font-weight="bold" fill="#000">50</text>
<line x1="58.80" y1="163.80" x2="66.40" y2="163.80" stroke="#000" stroke-width="2.3" />
<text transform="translate(25.66,170.70) scale(1.0000,1)" font-size="19.50" font-weight="bold" fill="#000">100</text>
<line x1="95.40" y1="443.90" x2="95.40" y2="451.00" stroke="#000" stroke-width="2.5" />
<text transform="translate(86.24,472.80) scale(1.0000,1)" font-size="19.30" font-weight="bold" fill="#000">-8</text>
<line x1="243.20" y1="443.90" x2="243.20" y2="451.00" stroke="#000" stroke-width="2.5" />
<text transform="translate(234.17,472.80) scale(1.0000,1)" font-size="19.30" font-weight="bold" fill="#000">-7</text>
<line x1="391.00" y1="443.90" x2="391.00" y2="451.00" stroke="#000" stroke-width="2.5" />
<text transform="translate(381.89,472.80) scale(1.0000,1)" font-size="19.30" font-weight="bold" fill="#000">-6</text>
<line x1="538.80" y1="443.90" x2="538.80" y2="451.00" stroke="#000" stroke-width="2.5" />
<text transform="translate(529.61,472.80) scale(1.0000,1)" font-size="19.30" font-weight="bold" fill="#000">-5</text>
<text transform="translate(204.80,497.60) scale(1.0255,1)" font-size="19.60" font-weight="bold" fill="#000">lg[Methoxamine] (M)</text>
<text transform="translate(18.70,373.90) rotate(-90) scale(1.0045,1)" font-size="19.70" font-weight="bold" fill="#000">normalized tension (%)</text>
<line x1="96.20" y1="12.00" x2="101.50" y2="12.00" stroke="#2E2E2E" stroke-width="2.3" />
<line x1="119.30" y1="12.00" x2="121.80" y2="12.00" stroke="#2E2E2E" stroke-width="2.3" />
<circle cx="108.9" cy="12" r="4.7" fill="#fff" stroke="#2E2E2E" stroke-width="1.5"/>
<text transform="translate(136.28,18.50) scale(0.9985,1)" font-size="20.00" font-weight="bold" fill="#000">CONTROL</text>
<line x1="96.20" y1="41.90" x2="121.80" y2="41.90" stroke="#2E2E2E" stroke-width="2.3" />
<rect x="104.1" y="37.0" width="9.9" height="9.8" fill="#2E2E2E"/>
<text transform="translate(135.76,50.20) scale(1.0000,1)" font-size="20.00" font-weight="bold" fill="#000">IBTX 10</text>
<text transform="translate(209.58,41.60) scale(0.8931,1)" font-size="15.00" font-weight="bold" fill="#000">-7</text>
<text transform="translate(224.73,50.20) scale(1.0905,1)" font-size="16.00" font-weight="bold" fill="#000">M</text>
<line x1="96.20" y1="77.30" x2="101.50" y2="77.30" stroke="#0000FF" stroke-width="2.5" />
<line x1="119.30" y1="77.30" x2="121.80" y2="77.30" stroke="#0000FF" stroke-width="2.5" />
<circle cx="108.9" cy="77.3" r="4.7" fill="#fff" stroke="#0000FF" stroke-width="1.6"/>
<text transform="translate(136.33,83.90) scale(0.9859,1)" font-size="20.00" font-weight="bold" fill="#000">SNP</text>
<text transform="translate(188.22,83.90) scale(0.9372,1)" font-size="20.00" font-weight="bold" fill="#000">10</text>
<text transform="translate(210.94,76.50) scale(0.9427,1)" font-size="12.50" font-weight="bold" fill="#000">-7</text>
<text transform="translate(223.38,83.90) scale(1.1441,1)" font-size="16.00" font-weight="bold" fill="#000">M</text>
<line x1="96.20" y1="109.20" x2="121.80" y2="109.20" stroke="#0000FF" stroke-width="2.6" />
<rect x="104.2" y="104.2" width="9.8" height="10.4" fill="#0000FF"/>
<text transform="translate(135.67,115.90) scale(0.9949,1)" font-size="20.00" font-weight="bold" fill="#000">IBTX + SNP</text>
<polyline points="252.60,9.95 271.10,9.95 271.10,15.90" fill="none" stroke="#000" stroke-width="2.6" />
<polyline points="257.20,41.80 271.50,41.80 271.50,36.20" fill="none" stroke="#000" stroke-width="2.6" />
<text transform="translate(264.93,32.80) scale(0.8867,1)" font-size="20.00" font-weight="bold" fill="#000">ns</text>
<polyline points="280.20,9.95 298.70,9.95 298.70,27.80" fill="none" stroke="#000" stroke-width="2.6" />
<polyline points="284.00,75.80 298.50,75.80 298.50,58.20" fill="none" stroke="#000" stroke-width="2.6" />
<text transform="translate(291.65,61.92) scale(1.0000,1)" font-size="33.50" font-weight="bold" fill="#000">*</text>
<polyline points="321.00,42.90 340.30,42.90 340.30,60.50" fill="none" stroke="#0000C4" stroke-width="2.5" />
<polyline points="330.40,107.90 341.30,107.90 341.30,90.00" fill="none" stroke="#0000C4" stroke-width="2.5" />
<text transform="translate(334.85,93.92) scale(1.0000,1)" font-size="33.50" font-weight="bold" fill="#0000C4">*</text>
<polyline points="306.50,75.60 320.50,75.60 320.50,81.90" fill="none" stroke="#0000C4" stroke-width="2.5" />
<polyline points="302.10,107.90 320.90,107.90 320.90,101.90" fill="none" stroke="#0000C4" stroke-width="2.5" />
<text transform="translate(315.05,109.22) scale(1.0000,1)" font-size="33.50" font-weight="bold" fill="#0000C4">*</text>
</g>
<text transform="translate(1224.13,34.40) scale(0.9570,1)" font-size="41.72" font-weight="bold" fill="#000">E.</text>
<rect x="168.50" y="681.30" width="335.80" height="282.10" fill="#E0E0FC"/>
<line x1="166.60" y1="681.20" x2="166.60" y2="964.80" stroke="#000" stroke-width="2.8" />
<line x1="165.40" y1="963.40" x2="505.20" y2="963.40" stroke="#000" stroke-width="3.2" />
<line x1="158.00" y1="682.60" x2="166.60" y2="682.60" stroke="#000" stroke-width="2.8" />
<text transform="translate(119.31,689.75) scale(1.0000,1)" font-size="21.50" font-weight="bold" fill="#000">150</text>
<line x1="158.00" y1="776.20" x2="166.60" y2="776.20" stroke="#000" stroke-width="2.8" />
<text transform="translate(119.31,783.35) scale(1.0000,1)" font-size="21.50" font-weight="bold" fill="#000">100</text>
<line x1="158.00" y1="869.80" x2="166.60" y2="869.80" stroke="#000" stroke-width="2.8" />
<text transform="translate(131.27,876.95) scale(1.0000,1)" font-size="21.50" font-weight="bold" fill="#000">50</text>
<line x1="158.00" y1="963.40" x2="166.60" y2="963.40" stroke="#000" stroke-width="2.8" />
<text transform="translate(143.22,970.55) scale(1.0000,1)" font-size="21.50" font-weight="bold" fill="#000">0</text>
<line x1="251.10" y1="963.40" x2="251.10" y2="971.90" stroke="#000" stroke-width="3.2" />
<line x1="418.90" y1="963.40" x2="418.90" y2="971.90" stroke="#000" stroke-width="3.2" />
<text transform="translate(211.70,993.90) scale(1.0344,1)" font-size="21.20" font-weight="bold" fill="#000">Control</text>
<text transform="translate(360.45,993.90) scale(1.0216,1)" font-size="21.20" font-weight="bold" fill="#000">IBTX 10</text>
<text transform="translate(440.80,984.30) scale(0.9536,1)" font-size="16.00" font-weight="bold" fill="#000">-7</text>
<text transform="translate(459.45,993.90) scale(1.0254,1)" font-size="21.20" font-weight="bold" fill="#000">M</text>
<text transform="translate(53.20,846.04) rotate(-90) scale(0.8951,1)" font-size="25.00" font-weight="bold" fill="#000">SNP</text>
<text transform="translate(81.80,971.70) rotate(-90) scale(0.9775,1)" font-size="24.50" font-weight="bold" fill="#000">anticontractile effect (a.u.)</text>
<line x1="250.80" y1="883.60" x2="250.80" y2="911.40" stroke="#000" stroke-width="1.1" />
<line x1="223.10" y1="911.40" x2="279.40" y2="911.40" stroke="#000" stroke-width="1.1" />
<line x1="223.10" y1="883.40" x2="279.40" y2="883.40" stroke="#000" stroke-width="1.1" />
<line x1="419.30" y1="843.00" x2="419.30" y2="853.90" stroke="#000" stroke-width="1.1" />
<line x1="391.30" y1="853.90" x2="447.30" y2="853.90" stroke="#000" stroke-width="1.1" />
<line x1="193.40" y1="885.10" x2="307.80" y2="885.10" stroke="#000" stroke-width="2.4" />
<line x1="362.90" y1="843.20" x2="476.00" y2="843.20" stroke="#000" stroke-width="2.4" />
<circle cx="200.30" cy="884.60" r="5.6" fill="#fff" stroke="#000" stroke-width="2.8"/>
<circle cx="225.60" cy="883.60" r="5.6" fill="#fff" stroke="#000" stroke-width="2.8"/>
<circle cx="250.80" cy="868.30" r="5.6" fill="#fff" stroke="#000" stroke-width="2.8"/>
<circle cx="250.80" cy="886.50" r="5.6" fill="#fff" stroke="#000" stroke-width="2.8"/>
<circle cx="276.10" cy="883.60" r="5.6" fill="#fff" stroke="#000" stroke-width="2.8"/>
<circle cx="301.40" cy="883.20" r="5.6" fill="#fff" stroke="#000" stroke-width="2.8"/>
<circle cx="250.80" cy="908.90" r="5.6" fill="#fff" stroke="#000" stroke-width="2.8"/>
<circle cx="276.10" cy="905.70" r="5.6" fill="#fff" stroke="#000" stroke-width="2.8"/>
<circle cx="276.10" cy="918.50" r="5.6" fill="#fff" stroke="#000" stroke-width="2.8"/>
<circle cx="225.60" cy="924.30" r="5.6" fill="#fff" stroke="#000" stroke-width="2.8"/>
<line x1="250.80" y1="883.60" x2="250.80" y2="911.40" stroke="#000" stroke-width="1.1" opacity="0.6"/>
<line x1="223.10" y1="911.40" x2="279.40" y2="911.40" stroke="#000" stroke-width="1.1" opacity="0.6"/>
<line x1="223.10" y1="883.40" x2="279.40" y2="883.40" stroke="#000" stroke-width="1.1" opacity="0.6"/>
<line x1="419.30" y1="843.00" x2="419.30" y2="853.90" stroke="#000" stroke-width="1.1" opacity="0.6"/>
<line x1="391.30" y1="853.90" x2="447.30" y2="853.90" stroke="#000" stroke-width="1.1" opacity="0.6"/>
<line x1="193.40" y1="885.10" x2="307.80" y2="885.10" stroke="#000" stroke-width="2.4" />
<rect x="363.00" y="837.90" width="12" height="12" fill="#000"/>
<rect x="382.90" y="837.90" width="12" height="12" fill="#000"/>
<rect x="403.10" y="832.10" width="12" height="12" fill="#000"/>
<rect x="403.10" y="844.60" width="12" height="12" fill="#000"/>
<rect x="423.20" y="830.60" width="12" height="12" fill="#000"/>
<rect x="423.20" y="840.20" width="12" height="12" fill="#000"/>
<rect x="423.20" y="855.50" width="12" height="12" fill="#000"/>
<rect x="443.40" y="837.90" width="12" height="12" fill="#000"/>
<rect x="463.70" y="837.90" width="12" height="12" fill="#000"/>
<rect x="413.10" y="888.20" width="12" height="12" fill="#000"/>
<polyline points="250.80,791.40 250.80,758.00 431.30,758.00 431.30,791.40" fill="none" stroke="#000" stroke-width="1.5" />
<text transform="translate(328.74,746.52) scale(0.9375,1)" font-size="32.09" font-weight="normal" fill="#000" stroke="#000" stroke-width="0.587" stroke-linejoin="round">#</text>
<text transform="translate(2.91,639.50) scale(0.9362,1)" font-size="41.28" font-weight="bold" fill="#000">B.</text>
<rect x="764.30" y="681.90" width="335.60" height="281.50" fill="#DFFDDF"/>
<line x1="761.90" y1="681.20" x2="761.90" y2="964.80" stroke="#000" stroke-width="2.8" />
<line x1="760.70" y1="963.40" x2="1100.60" y2="963.40" stroke="#000" stroke-width="3.2" />
<line x1="753.30" y1="682.60" x2="761.90" y2="682.60" stroke="#000" stroke-width="2.8" />
<text transform="translate(726.57,689.75) scale(1.0000,1)" font-size="21.50" font-weight="bold" fill="#000">40</text>
<line x1="753.30" y1="752.80" x2="761.90" y2="752.80" stroke="#000" stroke-width="2.8" />
<text transform="translate(726.57,759.95) scale(1.0000,1)" font-size="21.50" font-weight="bold" fill="#000">30</text>
<line x1="753.30" y1="823.00" x2="761.90" y2="823.00" stroke="#000" stroke-width="2.8" />
<text transform="translate(726.57,830.15) scale(1.0000,1)" font-size="21.50" font-weight="bold" fill="#000">20</text>
<line x1="753.30" y1="893.20" x2="761.90" y2="893.20" stroke="#000" stroke-width="2.8" />
<text transform="translate(726.57,900.35) scale(1.0000,1)" font-size="21.50" font-weight="bold" fill="#000">10</text>
<line x1="753.30" y1="963.40" x2="761.90" y2="963.40" stroke="#000" stroke-width="2.8" />
<text transform="translate(738.52,970.55) scale(1.0000,1)" font-size="21.50" font-weight="bold" fill="#000">0</text>
<line x1="845.80" y1="963.40" x2="845.80" y2="971.90" stroke="#000" stroke-width="3.2" />
<line x1="1014.00" y1="963.40" x2="1014.00" y2="971.90" stroke="#000" stroke-width="3.2" />
<text transform="translate(806.40,993.90) scale(1.0344,1)" font-size="21.20" font-weight="bold" fill="#000">Control</text>
<text transform="translate(955.55,993.90) scale(1.0216,1)" font-size="21.20" font-weight="bold" fill="#000">IBTX 10</text>
<text transform="translate(1035.90,984.30) scale(0.9536,1)" font-size="16.00" font-weight="bold" fill="#000">-7</text>
<text transform="translate(1054.55,993.90) scale(1.0254,1)" font-size="21.20" font-weight="bold" fill="#000">M</text>
<text transform="translate(661.25,846.04) rotate(-90) scale(0.8951,1)" font-size="25.00" font-weight="bold" fill="#000">SNP</text>
<text transform="translate(689.85,971.70) rotate(-90) scale(0.9775,1)" font-size="24.50" font-weight="bold" fill="#000">anticontractile effect (a.u.)</text>
<line x1="818.00" y1="865.80" x2="873.40" y2="865.80" stroke="#000" stroke-width="1.1" />
<line x1="818.00" y1="871.70" x2="873.40" y2="871.70" stroke="#000" stroke-width="1.1" />
<line x1="845.80" y1="865.80" x2="845.80" y2="871.70" stroke="#000" stroke-width="1.1" />
<line x1="995.30" y1="881.10" x2="1042.30" y2="881.10" stroke="#000" stroke-width="1.1" />
<line x1="995.30" y1="889.40" x2="1042.30" y2="889.40" stroke="#000" stroke-width="1.1" />
<line x1="1014.00" y1="881.10" x2="1014.00" y2="889.40" stroke="#000" stroke-width="1.1" />
<line x1="789.00" y1="868.30" x2="902.20" y2="868.30" stroke="#000" stroke-width="2.4" />
<line x1="957.90" y1="885.50" x2="1071.00" y2="885.50" stroke="#000" stroke-width="2.4" />
<circle cx="795.30" cy="865.40" r="5.6" fill="#fff" stroke="#000" stroke-width="2.8"/>
<circle cx="815.50" cy="865.40" r="5.6" fill="#fff" stroke="#000" stroke-width="2.8"/>
<circle cx="835.80" cy="851.40" r="5.6" fill="#fff" stroke="#000" stroke-width="2.8"/>
<circle cx="835.80" cy="872.70" r="5.6" fill="#fff" stroke="#000" stroke-width="2.8"/>
<circle cx="835.80" cy="886.50" r="5.6" fill="#fff" stroke="#000" stroke-width="2.8"/>
<circle cx="855.90" cy="865.40" r="5.6" fill="#fff" stroke="#000" stroke-width="2.8"/>
<circle cx="855.90" cy="879.40" r="5.6" fill="#fff" stroke="#000" stroke-width="2.8"/>
<circle cx="876.10" cy="858.30" r="5.6" fill="#fff" stroke="#000" stroke-width="2.8"/>
<circle cx="876.10" cy="872.70" r="5.6" fill="#fff" stroke="#000" stroke-width="2.8"/>
<circle cx="896.40" cy="872.10" r="5.6" fill="#fff" stroke="#000" stroke-width="2.8"/>
<line x1="818.00" y1="865.80" x2="873.40" y2="865.80" stroke="#000" stroke-width="1.1" opacity="0.6"/>
<line x1="818.00" y1="871.70" x2="873.40" y2="871.70" stroke="#000" stroke-width="1.1" opacity="0.6"/>
<line x1="845.80" y1="865.80" x2="845.80" y2="871.70" stroke="#000" stroke-width="1.1" opacity="0.6"/>
<line x1="995.30" y1="881.10" x2="1042.30" y2="881.10" stroke="#000" stroke-width="1.1" opacity="0.6"/>
<line x1="995.30" y1="889.40" x2="1042.30" y2="889.40" stroke="#000" stroke-width="1.1" opacity="0.6"/>
<line x1="1014.00" y1="881.10" x2="1014.00" y2="889.40" stroke="#000" stroke-width="1.1" opacity="0.6"/>
<line x1="789.00" y1="868.30" x2="902.20" y2="868.30" stroke="#000" stroke-width="2.4" />
<rect x="958.00" y="894.50" width="12" height="12" fill="#000"/>
<rect x="983.10" y="873.40" width="12" height="12" fill="#000"/>
<rect x="983.10" y="887.20" width="12" height="12" fill="#000"/>
<rect x="996.00" y="859.00" width="12" height="12" fill="#000"/>
<rect x="1008.00" y="873.40" width="12" height="12" fill="#000"/>
<rect x="1008.00" y="887.20" width="12" height="12" fill="#000"/>
<rect x="1021.10" y="859.00" width="12" height="12" fill="#000"/>
<rect x="1033.40" y="886.80" width="12" height="12" fill="#000"/>
<rect x="1058.70" y="880.10" width="12" height="12" fill="#000"/>
<rect x="1058.70" y="894.50" width="12" height="12" fill="#000"/>
<polyline points="850.40,788.80 850.40,774.90 1012.10,774.90 1012.10,788.80" fill="none" stroke="#000" stroke-width="1.5" />
<text transform="translate(917.64,760.43) scale(0.8695,1)" font-size="30.20" font-weight="normal" fill="#000" stroke="#000" stroke-width="0.633" stroke-linejoin="round">$</text>
<text transform="translate(608.51,639.70) scale(0.9789,1)" font-size="41.13" font-weight="bold" fill="#000">D.</text>
<rect x="1350.00" y="684.20" width="334.80" height="277.70" fill="#F3F3F3"/>
<line x1="1347.70" y1="680.60" x2="1347.70" y2="963.30" stroke="#000" stroke-width="2.8" />
<line x1="1346.50" y1="961.90" x2="1684.60" y2="961.90" stroke="#000" stroke-width="3.2" />
<line x1="1339.10" y1="682.00" x2="1347.70" y2="682.00" stroke="#000" stroke-width="2.8" />
<text transform="translate(1312.37,689.15) scale(1.0000,1)" font-size="21.50" font-weight="bold" fill="#000">40</text>
<line x1="1339.10" y1="752.00" x2="1347.70" y2="752.00" stroke="#000" stroke-width="2.8" />
<text transform="translate(1312.37,759.15) scale(1.0000,1)" font-size="21.50" font-weight="bold" fill="#000">30</text>
<line x1="1339.10" y1="822.00" x2="1347.70" y2="822.00" stroke="#000" stroke-width="2.8" />
<text transform="translate(1312.37,829.15) scale(1.0000,1)" font-size="21.50" font-weight="bold" fill="#000">20</text>
<line x1="1339.10" y1="891.90" x2="1347.70" y2="891.90" stroke="#000" stroke-width="2.8" />
<text transform="translate(1312.37,899.05) scale(1.0000,1)" font-size="21.50" font-weight="bold" fill="#000">10</text>
<line x1="1339.10" y1="961.90" x2="1347.70" y2="961.90" stroke="#000" stroke-width="2.8" />
<text transform="translate(1324.32,969.05) scale(1.0000,1)" font-size="21.50" font-weight="bold" fill="#000">0</text>
<line x1="1431.20" y1="961.90" x2="1431.20" y2="970.40" stroke="#000" stroke-width="3.2" />
<line x1="1598.50" y1="961.90" x2="1598.50" y2="970.40" stroke="#000" stroke-width="3.2" />
<text transform="translate(1391.80,992.10) scale(1.0344,1)" font-size="21.20" font-weight="bold" fill="#000">Control</text>
<text transform="translate(1540.05,992.10) scale(1.0216,1)" font-size="21.20" font-weight="bold" fill="#000">IBTX 10</text>
<text transform="translate(1620.40,982.50) scale(0.9536,1)" font-size="16.00" font-weight="bold" fill="#000">-7</text>
<text transform="translate(1639.05,992.10) scale(1.0254,1)" font-size="21.20" font-weight="bold" fill="#000">M</text>
<text transform="translate(1247.05,846.04) rotate(-90) scale(0.8951,1)" font-size="25.00" font-weight="bold" fill="#000">SNP</text>
<text transform="translate(1275.65,971.70) rotate(-90) scale(0.9775,1)" font-size="24.50" font-weight="bold" fill="#000">anticontractile effect (a.u.)</text>
<line x1="1405.70" y1="895.10" x2="1459.40" y2="895.10" stroke="#000" stroke-width="1.1" />
<line x1="1405.70" y1="900.00" x2="1459.40" y2="900.00" stroke="#000" stroke-width="1.1" />
<line x1="1431.20" y1="895.10" x2="1431.20" y2="900.00" stroke="#000" stroke-width="1.1" />
<line x1="1571.20" y1="897.00" x2="1626.30" y2="897.00" stroke="#000" stroke-width="1.1" />
<line x1="1571.20" y1="906.10" x2="1626.30" y2="906.10" stroke="#000" stroke-width="1.1" />
<line x1="1598.70" y1="897.00" x2="1598.70" y2="906.10" stroke="#000" stroke-width="1.1" />
<line x1="1375.00" y1="897.00" x2="1486.80" y2="897.00" stroke="#000" stroke-width="2.4" />
<line x1="1542.80" y1="901.50" x2="1654.70" y2="901.50" stroke="#000" stroke-width="2.4" />
<circle cx="1381.10" cy="885.20" r="5.6" fill="#fff" stroke="#000" stroke-width="2.8"/>
<circle cx="1381.10" cy="906.10" r="5.6" fill="#fff" stroke="#000" stroke-width="2.8"/>
<circle cx="1406.00" cy="884.60" r="5.6" fill="#fff" stroke="#000" stroke-width="2.8"/>
<circle cx="1406.00" cy="899.00" r="5.6" fill="#fff" stroke="#000" stroke-width="2.8"/>
<circle cx="1431.20" cy="891.90" r="5.6" fill="#fff" stroke="#000" stroke-width="2.8"/>
<circle cx="1431.20" cy="906.10" r="5.6" fill="#fff" stroke="#000" stroke-width="2.8"/>
<circle cx="1456.10" cy="891.90" r="5.6" fill="#fff" stroke="#000" stroke-width="2.8"/>
<circle cx="1456.10" cy="906.10" r="5.6" fill="#fff" stroke="#000" stroke-width="2.8"/>
<circle cx="1481.40" cy="891.90" r="5.6" fill="#fff" stroke="#000" stroke-width="2.8"/>
<circle cx="1481.40" cy="913.40" r="5.6" fill="#fff" stroke="#000" stroke-width="2.8"/>
<line x1="1405.70" y1="895.10" x2="1459.40" y2="895.10" stroke="#000" stroke-width="1.1" opacity="0.6"/>
<line x1="1405.70" y1="900.00" x2="1459.40" y2="900.00" stroke="#000" stroke-width="1.1" opacity="0.6"/>
<line x1="1431.20" y1="895.10" x2="1431.20" y2="900.00" stroke="#000" stroke-width="1.1" opacity="0.6"/>
<line x1="1571.20" y1="897.00" x2="1626.30" y2="897.00" stroke="#000" stroke-width="1.1" opacity="0.6"/>
<line x1="1571.20" y1="906.10" x2="1626.30" y2="906.10" stroke="#000" stroke-width="1.1" opacity="0.6"/>
<line x1="1598.70" y1="897.00" x2="1598.70" y2="906.10" stroke="#000" stroke-width="1.1" opacity="0.6"/>
<line x1="1375.00" y1="897.00" x2="1486.80" y2="897.00" stroke="#000" stroke-width="2.4" />
<rect x="1542.60" y="885.90" width="12" height="12" fill="#000"/>
<rect x="1567.70" y="893.00" width="12" height="12" fill="#000"/>
<rect x="1567.70" y="921.20" width="12" height="12" fill="#000"/>
<rect x="1592.70" y="871.90" width="12" height="12" fill="#000"/>
<rect x="1592.70" y="893.00" width="12" height="12" fill="#000"/>
<rect x="1592.70" y="906.80" width="12" height="12" fill="#000"/>
<rect x="1617.80" y="885.90" width="12" height="12" fill="#000"/>
<rect x="1617.80" y="900.10" width="12" height="12" fill="#000"/>
<rect x="1617.80" y="914.10" width="12" height="12" fill="#000"/>
<rect x="1643.00" y="885.90" width="12" height="12" fill="#000"/>
<polyline points="1433.20,826.80 1433.20,800.40 1601.40,800.40 1601.40,826.80" fill="none" stroke="#000" stroke-width="1.5" />
<text transform="translate(1505.93,786.50) scale(0.9277,1)" font-size="23.46" font-weight="normal" fill="#000" stroke="#000" stroke-width="0.593" stroke-linejoin="round">ns</text>
<text transform="translate(1224.91,639.70) scale(0.9395,1)" font-size="41.28" font-weight="bold" fill="#000">F.</text>
</svg></body></html>
